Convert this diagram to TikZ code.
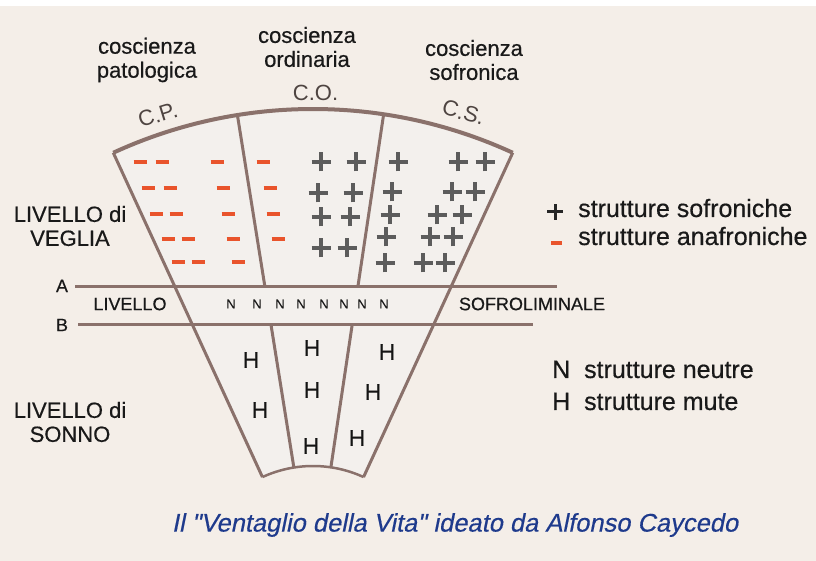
\documentclass[tikz,border=0pt]{standalone}
\usepackage{fontspec}
\setmainfont{Liberation Sans}
\newfontfamily\medio[FakeBold=0.5]{Liberation Sans}
\newfontfamily\mediocorsivo[FakeBold=0.4,FakeSlant=0.2]{Liberation Sans}
\usetikzlibrary{calc}
\definecolor{sfondo}{HTML}{F4EEE8}
\definecolor{ventaglio}{HTML}{F3F0ED}
\definecolor{bordo}{HTML}{8A716B}
\definecolor{meno}{HTML}{E9542C}
\definecolor{piu}{HTML}{5C5C5C}
\definecolor{sigle}{HTML}{4E4441}
\definecolor{blu}{HTML}{1E3A8C}
\tikzset{
  testo/.style={font=\medio\fontsize{22}{24}\selectfont, align=center, text=black!90, inner sep=0pt},
  legenda/.style={font=\medio\fontsize{25}{27}\selectfont, text=black!90, inner sep=0pt, anchor=base west},
  fascia/.style={font=\medio\fontsize{18}{19}\selectfont, text=black!90, inner sep=0pt},
  neutra/.style={font=\medio\fontsize{13}{14}\selectfont, text=black!90, inner sep=0pt},
  muta/.style={font=\medio\fontsize{23}{24}\selectfont, text=black!92, inner sep=0pt},
  sigla/.style={font=\fontsize{22}{24}\selectfont, text=sigle, inner sep=0pt},
  croce/.pic={\draw[line width=4pt, piu] (-9.5,0) -- (9.5,0) (0,-9.5) -- (0,9.5);},
  trattino/.pic={\draw[line width=3.3pt, meno] (-6.5,0) -- (6.5,0);},
}
\begin{document}
\begin{tikzpicture}[x=1pt, y=1pt]
\useasboundingbox (0,0) rectangle (816,561);
\fill[sfondo] (0,0) rectangle (816,561);
\fill[white] (0,555) rectangle (816,561);
\coordinate (O) at (313,-26);
% ventaglio
\fill[ventaglio] ($(O)+(114.7:478)$) arc[start angle=114.7, end angle=65.3, radius=478]
    -- ($(O)+(65.3:121)$) arc[start angle=65.3, end angle=114.7, radius=121] -- cycle;
\draw[bordo, line width=4pt] ($(O)+(114.7:478)$) arc[start angle=114.7, end angle=65.3, radius=478];
\draw[bordo, line width=2.5pt] ($(O)+(65.3:121)$) arc[start angle=65.3, end angle=114.7, radius=121];
\foreach \a in {114.7,65.3}
{
    \draw[bordo, line width=3pt] ($(O)+(\a:478)$) -- ($(O)+(\a:121)$);
}
\foreach \a in {99.1,81.5}
{
    \draw[bordo, line width=3pt] ($(O)+(\a:478)$) -- ($(O)+(\a:{300/sin(\a)})$);
    \draw[bordo, line width=3pt] ($(O)+(\a:{262/sin(\a)})$) -- ($(O)+(\a:121)$);
}
\draw[bordo, line width=3pt] (75,274) -- (557,274);
\draw[bordo, line width=3pt] (78,236) -- (533,236);
% intestazioni
\node[testo] (cpat) at (147,501) {coscienza\\patologica};
\node[testo] (cord) at (307,514) {coscienza\\ordinaria};
\node[testo] (csof) at (474,501) {coscienza\\sofronica};
\node[sigla, rotate=17] (CP) at ($(O)+(108.2:497)$) {C.P.};
\node[sigla] (CO) at ($(O)+(89.7:494)$) {C.O.};
\node[sigla, rotate=-16] (CS) at ($(O)+(72.4:498)$) {C.S.};
\node[testo] (veglia) at (70,335) {LIVELLO di\\VEGLIA};
\node[testo] (sonno) at (70,139) {LIVELLO di\\SONNO};
% fascia sofroliminale
\node[fascia] (A) at (62,275) {A};
\node[fascia] (B) at (62,236) {B};
\node[fascia] (liv) at (130,257) {LIVELLO};
\node[fascia] (sofro) at (532,257) {SOFROLIMINALE};
\foreach \x [count=\i] in {231,257,280,301,324,344,362,384}
    \node[neutra] (n\i) at (\x,257) {N};
% strutture
\foreach \p in {(140,399),(162,399),(217,399),(263,399),
    (148,373),(170,373),(223,373),(270,373),
    (156,347),(176,347),(228,347),(273,347),
    (168,322),(188,322),(233,322),(278,322),
    (178,299),(198,299),(238,299)}
    \pic at \p {trattino};
\foreach \p in {(321,399),(356,399),(318,368),(353,368),(321,344),(350,344),(321,313),(347,313),
    (398,399),(458,399),(485,399),(392,369),(452,369),(475,369),
    (390,346),(437,346),(462,346),(386,324),(430,324),(453,324),
    (385,298),(423,298),(445,298)}
    \pic at \p {croce};
\foreach \x/\y [count=\i] in {251/201,260/151,312/213,312/171,311/115,387/209,373/169,357/123}
    \node[muta] (h\i) at (\x,\y) {H};
% legenda
\draw[line width=3pt, black!85] (547,349) -- (563,349) (555,341) -- (555,357);
\draw[line width=4pt, meno] (551,318) -- (562,318);
\node[legenda] (lsof) at (578,344) {strutture sofroniche};
\node[legenda] (lana) at (578,316) {strutture anafroniche};
\node[legenda] (nleg) at (552,183) {N\ \ strutture neutre};
\node[legenda] (hleg) at (552,151) {H\ \ strutture mute};
% titolo
\node[font=\mediocorsivo\fontsize{25.5}{27}\selectfont, text=blu, inner sep=0pt] (titolo) at (455,36)
    {Il \symbol{34}Ventaglio della Vita\symbol{34} ideato da Alfonso Caycedo};
\end{tikzpicture}
\end{document}
